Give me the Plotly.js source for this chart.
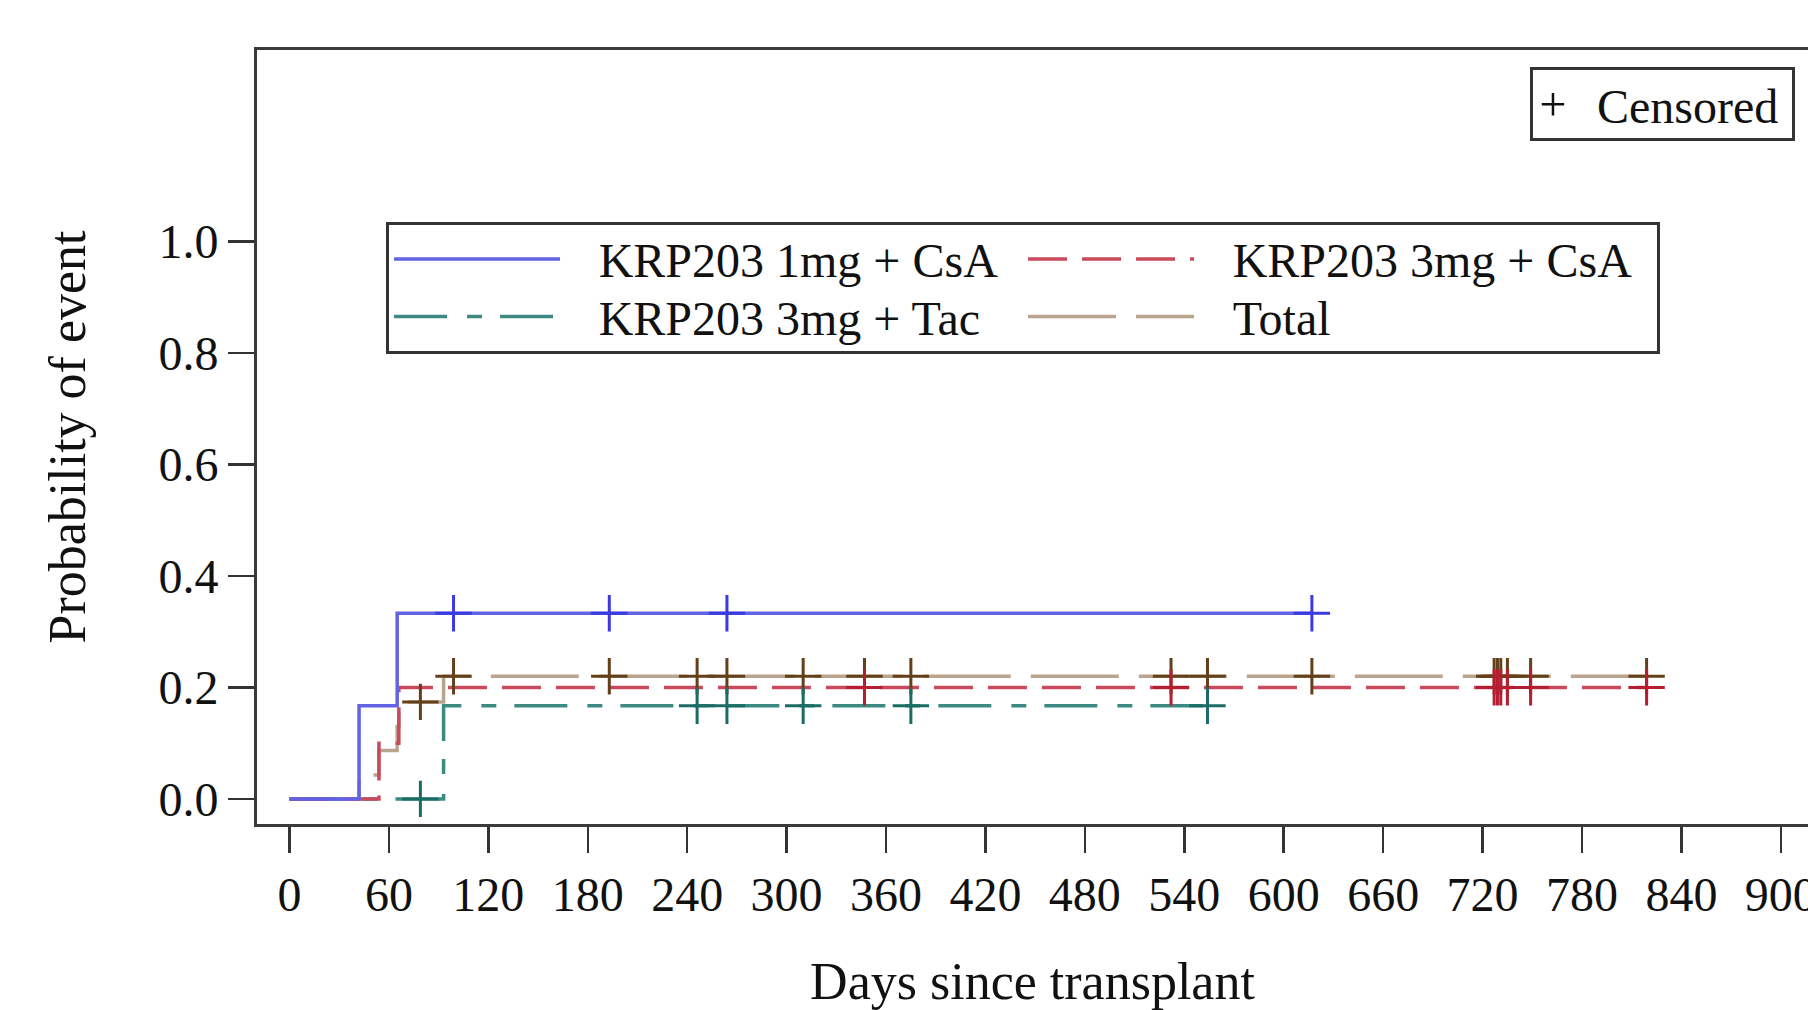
<!DOCTYPE html>
<html>
<head>
<meta charset="utf-8">
<script src="https://cdn.plot.ly/plotly-3.0.1.min.js"></script>
<style>
  html, body { margin: 0; padding: 0; background: #fff; }
  #chart { width: 1808px; height: 1010px; }
</style>
</head>
<body>
<div id="chart"></div>
<script>
// ---- Data ----
const groupNames = ["KRP203 1mg + CsA", "KRP203 3mg + CsA", "KRP203 3mg + Tac", "Total"];
const censoredLabel = "Censored";

// Step curves: event days and cumulative probability of event
const blueDays  = [0, 42, 65, 617];
const blueProb  = [0, 0.167, 0.333, 0.333];
const redDays   = [0, 54, 66, 819];
const redProb   = [0, 0.100, 0.200, 0.200];
const tealDays  = [0, 93, 554];
const tealProb  = [0, 0.167, 0.167];
const totalDays = [0, 42, 54, 65, 66, 93, 819];
const totalProb = [0, 0.043, 0.087, 0.130, 0.174, 0.220, 0.220];

// Censored observations (day, probability at that time)
const blueCensDays  = [99, 193, 264, 617];
const blueCensProb  = [0.333, 0.333, 0.333, 0.333];
const redCensDays   = [347, 532, 727, 729, 731, 735, 749, 819];
const redCensProb   = [0.2, 0.2, 0.2, 0.2, 0.2, 0.2, 0.2, 0.2];
const tealCensDays  = [79, 246, 264, 310, 375, 554];
const tealCensProb  = [0, 0.167, 0.167, 0.167, 0.167, 0.167];
const totalCensDays = [79, 99, 193, 246, 264, 310, 347, 375, 532, 554, 617, 727, 729, 731, 735, 749, 819];
const totalCensProb = [0.174, 0.220, 0.220, 0.220, 0.220, 0.220, 0.220, 0.220, 0.220, 0.220, 0.220, 0.220, 0.220, 0.220, 0.220, 0.220, 0.220];

const xTicks = [0, 60, 120, 180, 240, 300, 360, 420, 480, 540, 600, 660, 720, 780, 840, 900];
const yTicks = [0, 0.2, 0.4, 0.6, 0.8, 1.0];
const yTickText = ["0.0", "0.2", "0.4", "0.6", "0.8", "1.0"];

// ---- Styles ----
const FONT = "Liberation Serif, Times New Roman, serif";
const LEGEND_TEXT_PX = 48;
const PAD = "\u2002\u2009"; // spacing between legend sample and text
const colors = {
  blue:  {line: "#6262e4", mark: "#3a3ae0"},
  red:   {line: "#c94a5c", mark: "#b41e30"},
  teal:  {line: "#3d8a82", mark: "#1b6c64"},
  total: {line: "#b9a58e", mark: "#64401a"}
};

function stepTrace(x, y, name, c, dash, rank) {
  return {
    type: "scatter", mode: "lines", x: x, y: y, name: PAD + name,
    line: {shape: "hv", color: c.line, width: 3.5, dash: dash},
    legend: "legend", legendrank: rank, hoverinfo: "skip"
  };
}
function censTrace(x, y, c) {
  return {
    type: "scatter", mode: "markers", x: x, y: y, showlegend: false,
    marker: {symbol: "cross-thin", size: 26, line: {color: c.mark, width: 3}},
    hoverinfo: "skip"
  };
}

const traces = [
  stepTrace(totalDays, totalProb, groupNames[3], colors.total, "88px,20px", 4),
  stepTrace(tealDays, tealProb, groupNames[2], colors.teal, "53px,20px,15px,18px", 3),
  stepTrace(redDays, redProb, groupNames[1], colors.red, "39px,15px", 2),
  stepTrace(blueDays, blueProb, groupNames[0], colors.blue, "solid", 1),
  censTrace(totalCensDays, totalCensProb, colors.total),
  censTrace(tealCensDays, tealCensProb, colors.teal),
  censTrace(redCensDays, redCensProb, colors.red),
  censTrace(blueCensDays, blueCensProb, colors.blue),
  {
    type: "scatter", mode: "markers", x: [null], y: [null], name: "\u2002" + censoredLabel,
    legend: "legend2",
    marker: {symbol: "cross-thin", size: 28, line: {color: "#111", width: 2.5}},
    hoverinfo: "skip"
  }
];

const layout = {
  width: 1808, height: 1010,
  margin: {l: 257, r: 0, t: 50, b: 186, pad: 0},
  paper_bgcolor: "#ffffff", plot_bgcolor: "#ffffff",
  font: {family: FONT, size: 48, color: "#111"},
  showlegend: true,
  xaxis: {
    range: [-19.6, 916.4],
    tickvals: xTicks, ticktext: xTicks.map(String),
    ticklabeloverflow: "allow",
    ticks: "outside", ticklen: 26, tickwidth: 2.5, tickcolor: "#333",
    showline: true, linecolor: "#3a3a3a", linewidth: 3, mirror: true,
    showgrid: false, zeroline: false,
    tickfont: {family: FONT, size: 48, color: "#111"},
    title: {text: "Days since transplant", font: {family: FONT, size: 52, color: "#111"}, standoff: 45}
  },
  yaxis: {
    range: [-0.045, 1.343],
    tickvals: yTicks, ticktext: yTickText,
    ticks: "outside", ticklen: 26, tickwidth: 2.5, tickcolor: "#333",
    showline: true, linecolor: "#3a3a3a", linewidth: 3, mirror: false,
    showgrid: false, zeroline: false,
    tickfont: {family: FONT, size: 48, color: "#111"},
    title: {text: "Probability of event", font: {family: FONT, size: 52, color: "#111"}, standoff: 57}
  },
  legend: {
    x: 0.0832, y: 0.7775, xanchor: "left", yanchor: "top",
    orientation: "h",
    bgcolor: "#ffffff", bordercolor: "#333", borderwidth: 3,
    font: {family: FONT, size: 42, color: "#111"},
    itemwidth: 166, entrywidth: 453, entrywidthmode: "pixels",
    traceorder: "normal", tracegroupgap: 0
  },
  legend2: {
    x: 0.9916, y: 0.9775, xanchor: "right", yanchor: "top",
    orientation: "h",
    bgcolor: "#ffffff", bordercolor: "#333", borderwidth: 3,
    font: {family: FONT, size: 42, color: "#111"},
    itemwidth: 30, entrywidth: 214, entrywidthmode: "pixels"
  }
};

// legend rows are sized for 42px text; draw the text itself a bit larger
function enlargeLegendText(gd) {
  gd.querySelectorAll("g.infolayer [class*='legend'] text, text.legendtext").forEach(function (t) {
    t.style.fontSize = LEGEND_TEXT_PX + "px";
    t.setAttribute("font-size", LEGEND_TEXT_PX);
    if (!t.hasAttribute("data-y0")) {
      var y = parseFloat(t.getAttribute("y")) || 0;
      t.setAttribute("data-y0", y);
    }
    t.setAttribute("y", parseFloat(t.getAttribute("data-y0")) + 2);
  });
}

Plotly.newPlot("chart", traces, layout, {staticPlot: true, displayModeBar: false}).then(function (gd) {
  enlargeLegendText(gd);
  gd.on("plotly_afterplot", function () { enlargeLegendText(gd); });
  setTimeout(function () { enlargeLegendText(gd); }, 30);
  setTimeout(function () { enlargeLegendText(gd); }, 200);
});
</script>
</body>
</html>
